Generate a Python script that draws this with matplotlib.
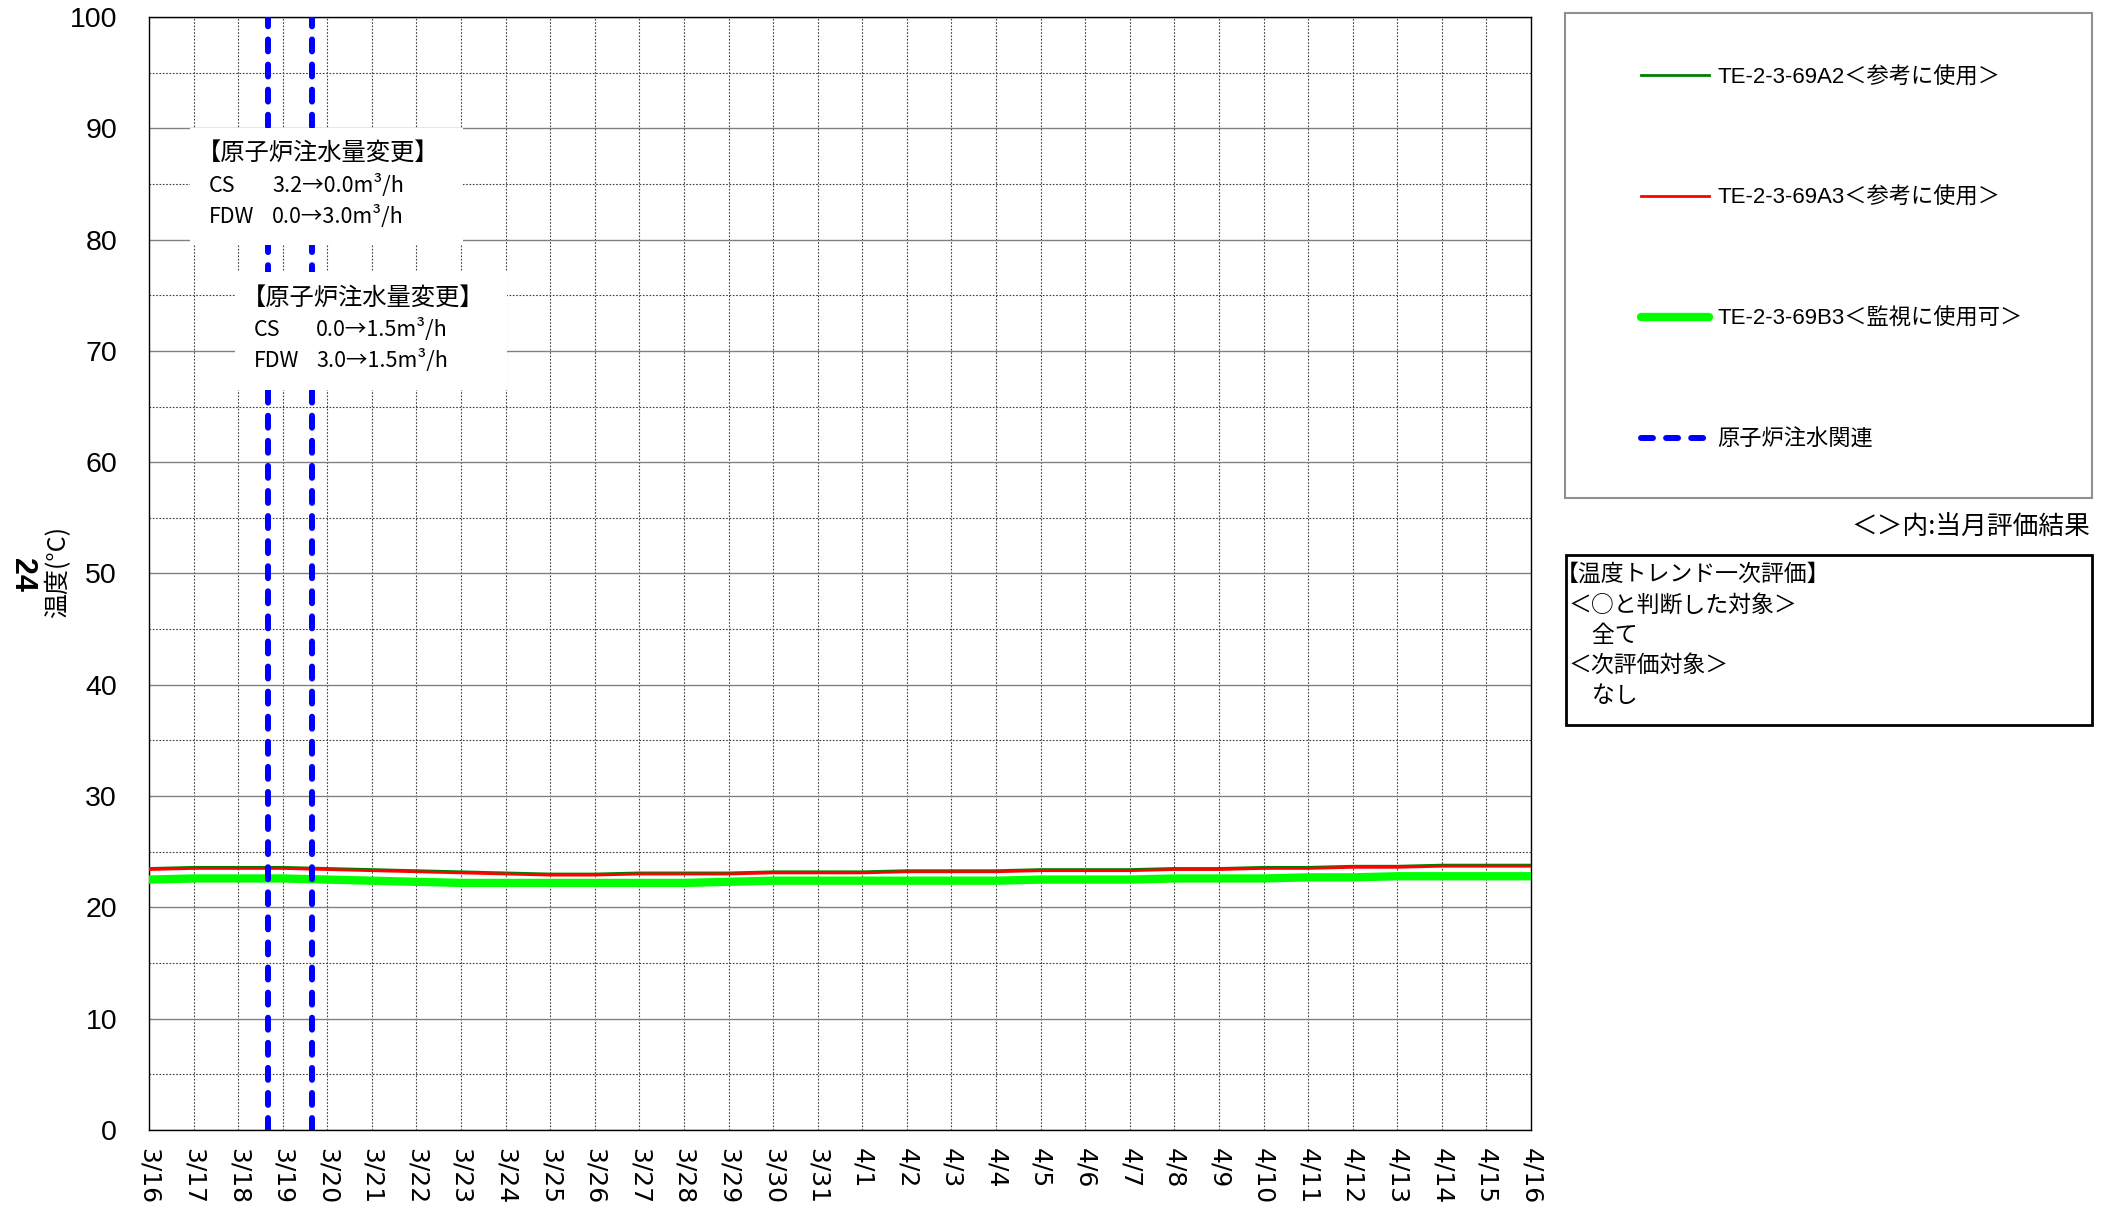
import matplotlib
matplotlib.use("Agg")
import matplotlib.pyplot as plt
import pandas as pd
from matplotlib.patches import Rectangle
from matplotlib.font_manager import FontProperties

plt.rcParams['font.family'] = ['Liberation Sans', 'Noto Sans CJK JP', 'DejaVu Sans']

# ---------------- data ----------------
day_labels = ["3/16", "3/17", "3/18", "3/19", "3/20", "3/21", "3/22", "3/23",
              "3/24", "3/25", "3/26", "3/27", "3/28", "3/29", "3/30", "3/31",
              "4/1", "4/2", "4/3", "4/4", "4/5", "4/6", "4/7", "4/8",
              "4/9", "4/10", "4/11", "4/12", "4/13", "4/14", "4/15", "4/16"]
day_dates = pd.date_range("2013-03-16", "2013-04-16", freq="D")

te_a2 = [23.5, 23.6, 23.6, 23.6, 23.5, 23.4, 23.3, 23.2, 23.1, 23.0, 23.0, 23.1,
         23.1, 23.1, 23.2, 23.2, 23.2, 23.3, 23.3, 23.3, 23.4, 23.4, 23.4, 23.5,
         23.5, 23.6, 23.6, 23.7, 23.7, 23.8, 23.8, 23.8]
te_a3 = [23.4, 23.5, 23.5, 23.5, 23.4, 23.3, 23.2, 23.1, 23.0, 22.9, 22.9, 23.0,
         23.0, 23.0, 23.1, 23.1, 23.1, 23.2, 23.2, 23.2, 23.3, 23.3, 23.3, 23.4,
         23.4, 23.5, 23.5, 23.6, 23.6, 23.7, 23.7, 23.7]
te_b3 = [22.5, 22.6, 22.6, 22.6, 22.5, 22.4, 22.3, 22.2, 22.2, 22.2, 22.2, 22.2,
         22.2, 22.3, 22.4, 22.4, 22.4, 22.4, 22.4, 22.4, 22.5, 22.5, 22.5, 22.6,
         22.6, 22.6, 22.7, 22.7, 22.8, 22.8, 22.8, 22.8]

injection_times = pd.to_datetime(["2013-03-18 16:00", "2013-03-19 16:00"])
note1 = ["【原子炉注水量変更】", "CS", "3.2→0.0m³/h", "FDW", "0.0→3.0m³/h"]
note2 = ["【原子炉注水量変更】", "CS", "0.0→1.5m³/h", "FDW", "3.0→1.5m³/h"]

series_labels = ["TE-2-3-69A2＜参考に使用＞", "TE-2-3-69A3＜参考に使用＞",
                 "TE-2-3-69B3＜監視に使用可＞", "原子炉注水関連"]
eval_lines = ["【温度トレンド一次評価】", "＜○と判断した対象＞", "　全て",
              "＜次評価対象＞", "　なし"]

# ---------------- figure ----------------
W, H = 2112, 1213
fig = plt.figure(figsize=(W / 100, H / 100), dpi=100)
ax = fig.add_axes([149 / W, 1 - 1130 / H, (1531 - 149) / W, (1130 - 17) / H])

ax.plot(day_dates, te_b3, color="#00FF00", lw=6.0, zorder=3, solid_capstyle="round")
ax.plot(day_dates, te_a2, color="#008000", lw=2.0, zorder=4)
ax.plot(day_dates, te_a3, color="#FF0000", lw=2.0, zorder=5)
vlines = []
for t in injection_times:
    vl = ax.axvline(t, color="#0000FF", lw=4.3, linestyle=(0, (2.0, 2.2)),
                    dash_capstyle="round", zorder=6)
    vlines.append(vl)

ax.set_xlim(day_dates[0], day_dates[-1])
ax.set_ylim(0, 100)
ax.set_xticks(day_dates)
ax.set_xticklabels(day_labels, rotation=270, fontsize=18, family="DejaVu Sans")
ax.set_yticks(range(0, 101, 10))
ax.set_yticks(range(5, 100, 10), minor=True)
ax.tick_params(axis="y", which="both", length=0, pad=23, labelsize=20.5)
ax.tick_params(axis="x", which="both", length=0, pad=13)
ax.grid(True, which="major", axis="y", color="#808080", lw=1.0, linestyle="-")
ax.grid(True, which="minor", axis="y", color="#404040", lw=0.8, linestyle=(0, (1.5, 1.5)))
ax.grid(True, which="major", axis="x", color="#404040", lw=0.8, linestyle=(0, (1.5, 1.5)))
ax.set_axisbelow(True)
for s in ax.spines.values():
    s.set_color("black")
    s.set_linewidth(1.0)

cjk = ["Noto Sans CJK JP", "DejaVu Sans"]


def px2ax(x, y):
    return (x - 149) / (1531 - 149), (1130 - y) / (1130 - 17)


def note(box, lines, x_head, x_lab, x_val, ys):
    x0, y0 = px2ax(box[0], box[3])
    x1, y1 = px2ax(box[2], box[1])
    ax.add_patch(Rectangle((x0, y0), x1 - x0, y1 - y0, transform=ax.transAxes,
                           facecolor="white", edgecolor="none", zorder=8, clip_on=False))
    ax.text(*px2ax(x_head, ys[0]), lines[0], transform=ax.transAxes, fontsize=17.5,
            family=cjk, va="center", ha="left", zorder=9)
    for (xx, yy, s) in [(x_lab, ys[1], lines[1]), (x_val, ys[1], lines[2]),
                        (x_lab, ys[2], lines[3]), (x_val, ys[2], lines[4])]:
        ax.text(*px2ax(xx, yy), s, transform=ax.transAxes, fontsize=15.5,
                family=cjk, va="center", ha="left", zorder=9)


note((190, 128, 463, 245), note1, 197, 209, 272, (153, 186, 217))
note((235, 272, 507, 390), note2, 242, 254, 316, (298, 330, 361))

# ---------------- overlay (pixel coordinates) ----------------
ov = fig.add_axes([0, 0, 1, 1], zorder=10)
ov.set_xlim(0, W)
ov.set_ylim(H, 0)
ov.axis("off")
ov.patch.set_alpha(0)

ov.text(22, 575, "24", rotation=270, fontsize=22, fontweight="bold",
        ha="center", va="center")
ov.text(58, 572, "温度(°C)", rotation=90, fontsize=18, family=cjk,
        ha="center", va="center")

# legend box
ov.add_patch(Rectangle((1565, 13), 2092 - 1565, 498 - 13, facecolor="white",
                       edgecolor="#909090", lw=1.5))
handles = ax.get_lines()
leg_handles = [handles[1], handles[2], handles[0], vlines[0]]
leg = fig.legend(leg_handles, series_labels, loc="upper left",
                 bbox_to_anchor=(1641 / W, 1 - 67 / H), frameon=False,
                 prop=FontProperties(family=["Liberation Sans", "Noto Sans CJK JP"], size=16),
                 handlelength=3.06, handletextpad=0.36, labelspacing=4.49,
                 borderpad=0, borderaxespad=0)
leg.set_zorder(11)

ov.text(2090, 527, "＜＞内:当月評価結果", fontsize=18.5, family=cjk,
        ha="right", va="center")

ov.add_patch(Rectangle((1566, 555), 2092 - 1566, 725 - 555, facecolor="white",
                       edgecolor="black", lw=2.0))
for txt, x, y in zip(eval_lines, [1556, 1569, 1569, 1569, 1569],
                     [574, 605, 636, 665, 696]):
    ov.text(x, y, txt, fontsize=16.5, family=cjk, ha="left", va="center")

fig.savefig("out.png", dpi=100)
